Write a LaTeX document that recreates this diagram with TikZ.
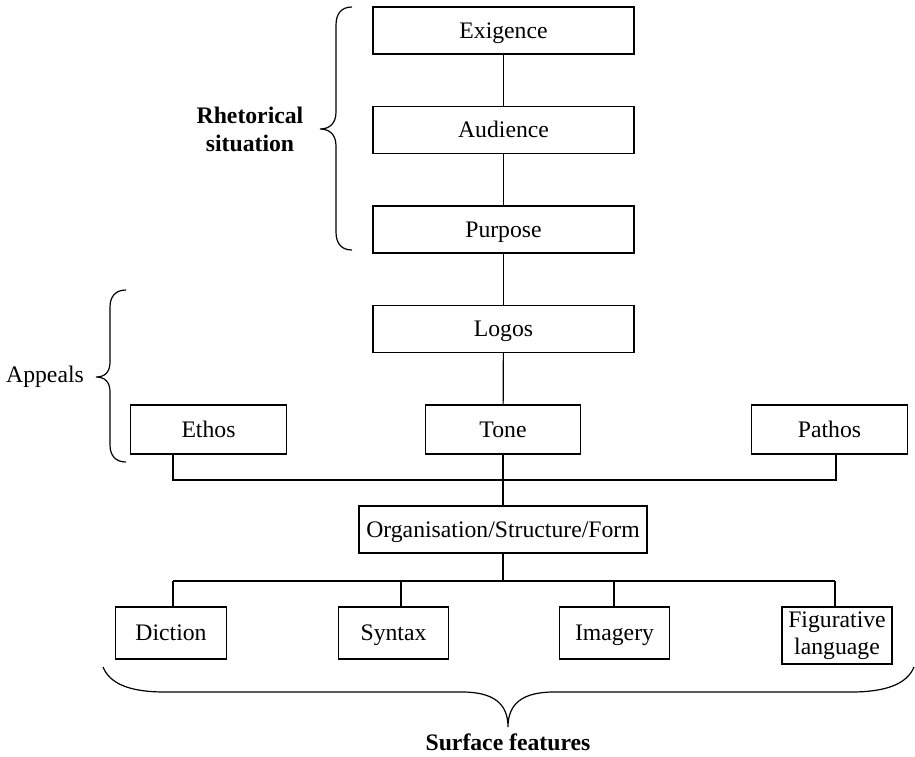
\documentclass[tikz,border=0pt]{standalone}
\usepackage{fontspec}
\setmainfont{Liberation Serif}
\begin{document}
\begin{tikzpicture}[x=0.5pt,y=-0.5pt,
  every node/.style={font=\fontsize{11.85pt}{14pt}\selectfont},
  box/.style={draw, line width=0.6pt, inner sep=0pt, align=center},
  one/.style={text height=7.85pt, text depth=0pt},
  wide/.style={box, one, minimum width=130.5pt, minimum height=23.5pt},
  mid/.style={box, one, minimum width=77.75pt, minimum height=24.5pt},
  small/.style={box, one, minimum width=55.25pt, minimum height=26pt},
  link/.style={line width=0.6pt},
  bracep/.style={line width=0.6pt},
  lbl/.style={align=center, inner sep=0pt, font=\fontsize{11.85pt}{14pt}\selectfont\bfseries}]
\useasboundingbox (0,0) rectangle (915,756);

% top column
\node[wide] (exi) at (503.5,30.5) {Exigence};
\node[wide] (aud) at (503.5,130) {Audience};
\node[wide] (pur) at (503.5,229.5) {Purpose};
\node[wide] (logos) at (503.5,329) {Logos};

% appeals row
\node[mid] (ethos) at (208.5,429.5) {Ethos};
\node[mid] (tone) at (503,429.5) {Tone};
\node[mid] (pathos) at (829.5,429.5) {Pathos};

% organisation
\node[box, one, minimum width=144pt, minimum height=23.5pt] (org) at (503,529.5) {Organisation/Structure/Form};

% bottom row
\node[small] (diction) at (171,633) {Diction};
\node[small] (syntax) at (393.5,633) {Syntax};
\node[small] (imagery) at (614.5,633) {Imagery};
\node[box, minimum width=55pt, minimum height=28.5pt, font=\fontsize{11.85pt}{13.5pt}\selectfont] (fig) at (837,635.5) {Figurative\\language};

% vertical links of the column
\draw[link] (exi) -- (aud);
\draw[link] (aud) -- (pur);
\draw[link] (pur) -- (logos);
\draw[link] (logos) -- (tone);
\draw[link] (tone) -- (org);

% appeals junction
\coordinate (dl) at (173,480);
\coordinate (dr) at (836,480);
\draw[link] (ethos.south -| dl) -- (dl) -- (dr) -- (pathos.south -| dr);

% surface features junction
\coordinate (b1) at (173,581);
\coordinate (b2) at (401,581);
\coordinate (b3) at (614,581);
\coordinate (b4) at (835,581);
\draw[link] (b1) -- (b4);
\draw[link] (org.south) -- (org.south |- b1);
\draw[link] (b1) -- (diction.north -| b1);
\draw[link] (b2) -- (syntax.north -| b2);
\draw[link] (b3) -- (imagery.north -| b3);
\draw[link] (b4) -- (fig.north -| b4);

% rhetorical situation brace
\draw[bracep] (352,7) .. controls (342,7) and (336,13) .. (336,25) -- (336,112)
  .. controls (336,123) and (330,129) .. (320,129)
  .. controls (330,129) and (336,135) .. (336,146) -- (336,232)
  .. controls (336,244) and (342,250) .. (352,250);
\node[lbl] (rhet) at (250,129) {Rhetorical\\situation};

% appeals brace
\draw[bracep] (126,290) .. controls (116,290) and (110,296) .. (110,307) -- (110,362)
  .. controls (110,372) and (105,377) .. (96,377)
  .. controls (105,377) and (110,382) .. (110,392) -- (110,445)
  .. controls (110,456) and (116,462) .. (126,462);
\node[inner sep=0pt] (appeals) at (45,377) {Appeals};

% surface features brace
\draw[bracep] (103,667) .. controls (110,684) and (130,692) .. (165,692) -- (462,692)
  .. controls (494,692) and (508,704) .. (508,727)
  .. controls (508,704) and (522,692) .. (554,692) -- (851,692)
  .. controls (886,692) and (907,684) .. (914,667);
\node[lbl] (surf) at (508,742) {Surface features};
\end{tikzpicture}
\end{document}
